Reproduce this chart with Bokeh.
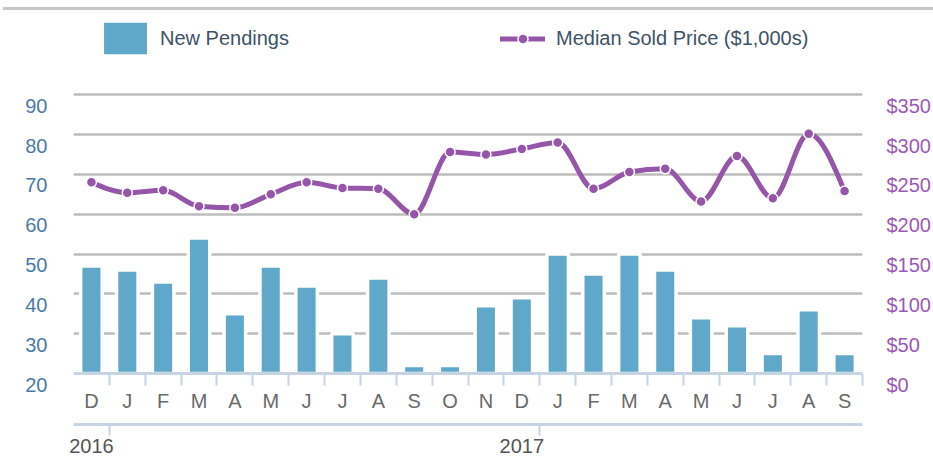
from bokeh.plotting import figure
from bokeh.models import Range1d, LinearAxis, FixedTicker, Legend, LegendItem, Div, ColumnDataSource
from bokeh.layouts import column
from bokeh.embed import file_html
from bokeh.resources import INLINE

# ---------------- data ----------------
months = ["D", "J", "F", "M", "A", "M", "J", "J", "A", "S", "O", "N",
          "D", "J", "F", "M", "A", "M", "J", "J", "A", "S"]
new_pendings = [47, 46, 43, 54, 35, 47, 42, 30, 44, 22, 22, 37,
                39, 50, 45, 50, 46, 34, 32, 25, 36, 25]
median_price = [240, 227, 230, 210, 208, 225, 240, 233, 232, 200, 278, 275,
                 282, 290, 232, 253, 257, 216, 273, 220, 301, 229]
years = ["2016", "2017"]
year_label_month = [0, 12]       # month index under which each year label sits
year_start_month = [1, 13]       # month index where each year tick sits
left_ticks = [20, 30, 40, 50, 60, 70, 80, 90]
right_ticks = [0, 50, 100, 150, 200, 250, 300, 350]
right_labels = ["$0", "$50", "$100", "$150", "$200", "$250", "$300", "$350"]

# ---------------- styles ----------------
BAR = "#5fa8c9"
PURPLE = "#9556a9"
PURPLE_TXT = "#9b59b6"
BLUE_TXT = "#4b79ad"
AXIS = "#c6d4e3"
GRID = "#bdbdbd"
FONT = "Liberation Sans"
HEADROOM = 21.15   # empty value space above the top tick (holds the legend)

n = len(months)
xs = [i + 0.5 for i in range(n)]

# monotone (d3 curveMonotoneX style) tangents -> bezier control points
def sgn(v):
    return (v > 0) - (v < 0)

t = [0.0] * n
for i in range(1, n - 1):
    h0 = xs[i] - xs[i - 1]
    h1 = xs[i + 1] - xs[i]
    s0 = (median_price[i] - median_price[i - 1]) / h0
    s1 = (median_price[i + 1] - median_price[i]) / h1
    pp = (s0 * h1 + s1 * h0) / (h0 + h1)
    t[i] = (sgn(s0) + sgn(s1)) * min(abs(s0), abs(s1), 0.5 * abs(pp))
h = xs[1] - xs[0]
t[0] = (3 * (median_price[1] - median_price[0]) / h - t[1]) / 2
h = xs[-1] - xs[-2]
t[-1] = (3 * (median_price[-1] - median_price[-2]) / h - t[-2]) / 2

seg = dict(x0=[], y0=[], x1=[], y1=[], cx0=[], cy0=[], cx1=[], cy1=[])
for i in range(n - 1):
    dx = (xs[i + 1] - xs[i]) / 3
    seg["x0"].append(xs[i]); seg["y0"].append(median_price[i])
    seg["x1"].append(xs[i + 1]); seg["y1"].append(median_price[i + 1])
    seg["cx0"].append(xs[i] + dx); seg["cy0"].append(median_price[i] + dx * t[i])
    seg["cx1"].append(xs[i + 1] - dx); seg["cy1"].append(median_price[i + 1] - dx * t[i + 1])

ratio = (right_ticks[-1] - right_ticks[0]) / (left_ticks[-1] - left_ticks[0])

p = figure(width=933, height=450, output_backend="svg", toolbar_location=None,
           x_range=Range1d(0, n),
           y_range=Range1d(left_ticks[0], left_ticks[-1] + HEADROOM),
           x_axis_type=None, min_border_left=73, min_border_right=68,
           min_border_top=0, min_border_bottom=87)
p.extra_y_ranges = {"price": Range1d(right_ticks[0], right_ticks[-1] + HEADROOM * ratio)}
p.outline_line_color = None
p.background_fill_color = "white"
p.border_fill_color = "white"

# grid
p.ygrid.ticker = FixedTicker(ticks=left_ticks[1:])
p.ygrid.grid_line_color = GRID
p.ygrid.grid_line_width = 2.5

# left axis
ya = p.yaxis[0]
ya.ticker = FixedTicker(ticks=left_ticks)
ya.major_label_overrides = {v: "\n" + str(v) for v in left_ticks}
ya.axis_line_color = None
ya.major_tick_line_color = None
ya.minor_tick_line_color = None
ya.major_label_standoff = 20
ya.major_label_text_font = FONT
ya.major_label_text_font_size = "20px"
ya.major_label_text_color = BLUE_TXT
ya.major_label_text_line_height = 1.0

# right axis
ra = LinearAxis(y_range_name="price", ticker=FixedTicker(ticks=right_ticks))
ra.major_label_overrides = {v: "\n" + lab for v, lab in zip(right_ticks, right_labels)}
ra.axis_line_color = None
ra.major_tick_line_color = None
ra.minor_tick_line_color = None
ra.major_label_standoff = 18
ra.major_label_text_font = FONT
ra.major_label_text_font_size = "20px"
ra.major_label_text_color = PURPLE_TXT
ra.major_label_text_line_height = 1.0
p.add_layout(ra, "right")

# month axis
ma = LinearAxis(ticker=FixedTicker(ticks=xs, minor_ticks=list(range(1, n + 1))))
ma.major_label_overrides = {x: m for x, m in zip(xs, months)}
ma.axis_line_color = AXIS
ma.axis_line_width = 3
ma.major_tick_line_color = None
ma.major_tick_out = 0
ma.major_tick_in = 0
ma.minor_tick_line_color = AXIS
ma.minor_tick_line_width = 2
ma.minor_tick_out = 12
ma.minor_tick_in = 0
ma.major_label_standoff = 4
ma.major_label_text_font = FONT
ma.major_label_text_font_size = "20px"
ma.major_label_text_color = "#6a6a6a"
ma.axis_label = " "
ma.axis_label_text_font_size = "2px"
ma.axis_label_standoff = 5
p.add_layout(ma, "below")

# year axis
yl = [xs[i] for i in year_label_month]
yt = list(year_start_month)
ya2 = LinearAxis(ticker=FixedTicker(ticks=yl, minor_ticks=yt))
ya2.major_label_overrides = {x: y for x, y in zip(yl, years)}
ya2.axis_line_color = AXIS
ya2.axis_line_width = 3
ya2.major_tick_line_color = None
ya2.major_tick_out = 0
ya2.major_tick_in = 0
ya2.minor_tick_line_color = AXIS
ya2.minor_tick_line_width = 2
ya2.minor_tick_out = 11
ya2.minor_tick_in = 0
ya2.major_label_standoff = 3
ya2.major_label_text_font = FONT
ya2.major_label_text_font_size = "20px"
ya2.major_label_text_color = "#555555"
p.add_layout(ya2, "below")

# bars
bars = p.vbar(x=xs, top=new_pendings, bottom=left_ticks[0], width=0.6,
              fill_color=BAR, line_color="white", line_width=3.5)

# smooth line
curve = p.bezier(source=ColumnDataSource(seg), x0="x0", y0="y0", x1="x1", y1="y1",
                 cx0="cx0", cy0="cy0", cx1="cx1", cy1="cy1",
                 line_color=PURPLE, line_width=5, line_cap="round", y_range_name="price")
dots = p.scatter(x=xs, y=median_price, size=10, fill_color=PURPLE, line_color="white",
                 line_width=1.5, y_range_name="price")

common = dict(orientation="horizontal", padding=0, margin=0, border_line_color=None,
              background_fill_alpha=0, label_text_font=FONT, label_text_font_size="20px",
              label_text_color="#3e5368")
leg1 = Legend(items=[LegendItem(label="New Pendings", renderers=[bars])],
              location=(23, 313), glyph_width=58, glyph_height=44, label_standoff=6, **common)
leg2 = Legend(items=[LegendItem(label="Median Sold Price ($1,000s)", renderers=[curve, dots])],
              location=(427, 322), glyph_width=45, glyph_height=25, label_standoff=11, **common)
p.add_layout(leg1)
p.add_layout(leg2)

top_line = Div(text="", width=930, height=3, margin=(7, 0, 0, 3),
               styles={"background-color": "#c8c8c8"})
layout = column(top_line, p, spacing=0)

open("out.html", "w").write(file_html(layout, INLINE))
